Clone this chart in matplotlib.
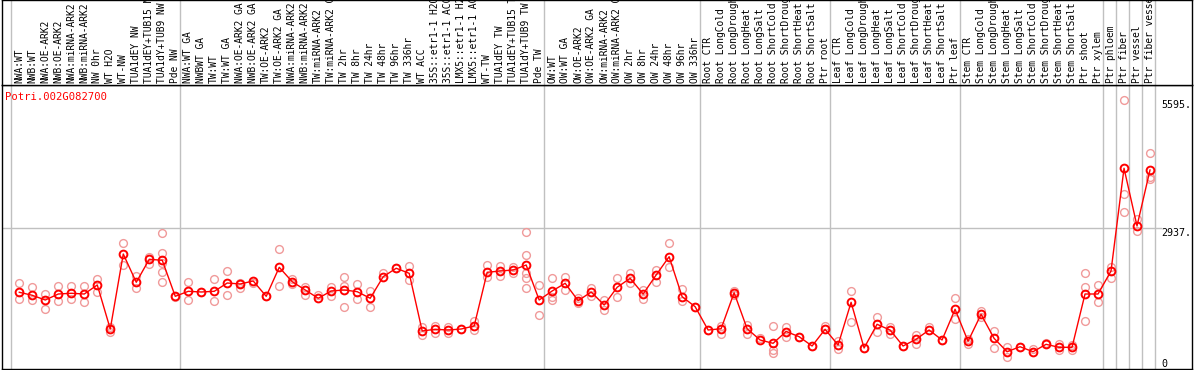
import numpy as np
import matplotlib
matplotlib.use('Agg')
import matplotlib.pyplot as plt
import matplotlib.transforms as mtrans

gene = 'Potri.002G082700'

labels = ['NWA:WT', 'NWB:WT', 'NWA:OE-ARK2', 'NWB:OE-ARK2', 'NWA:miRNA-ARK2', 'NWB:miRNA-ARK2',
          'NW 0hr', 'WT H2O', 'WT-NW', 'TUA1dEY NW', 'TUA1dEY+TUB15 NW', 'TUA1dY+TUB9 NW', 'Pde NW',
          'NWA:WT GA', 'NWBWT GA', 'TW:WT', 'TW:WT GA', 'NWA:OE-ARK2 GA', 'NWB:OE-ARK2 GA',
          'TW:OE-ARK2', 'TW:OE-ARK2 GA', 'NWA:miRNA-ARK2 GA', 'NWB:miRNA-ARK2 GA', 'TW:miRNA-ARK2',
          'TW:miRNA-ARK2 GA', 'TW 2hr', 'TW 8hr', 'TW 24hr', 'TW 48hr', 'TW 96hr', 'TW 336hr',
          'WT ACC', '35S::etr1-1 H2O', '35S::etr1-1 ACC', 'LMX5::etr1-1 H2O', 'LMX5::etr1-1 ACC',
          'WT-TW', 'TUA1dEY TW', 'TUA1dEY+TUB15 TW', 'TUA1dY+TUB9 TW', 'Pde TW',
          'OW:WT', 'OW:WT GA', 'OW:OE-ARK2', 'OW:OE-ARK2 GA', 'OW:miRNA-ARK2', 'OW:miRNA-ARK2 GA',
          'OW 2hr', 'OW 8hr', 'OW 24hr', 'OW 48hr', 'OW 96hr', 'OW 336hr',
          'Root CTR', 'Root LongCold', 'Root LongDrought', 'Root LongHeat', 'Root LongSalt',
          'Root ShortCold', 'Root ShortDrought', 'Root ShortHeat', 'Root ShortSalt', 'Ptr root',
          'Leaf CTR', 'Leaf LongCold', 'Leaf LongDrought', 'Leaf LongHeat', 'Leaf LongSalt',
          'Leaf ShortCold', 'Leaf ShortDrought', 'Leaf ShortHeat', 'Leaf ShortSalt', 'Ptr leaf',
          'Stem CTR', 'Stem LongCold', 'Stem LongDrought', 'Stem LongHeat', 'Stem LongSalt',
          'Stem ShortCold', 'Stem ShortDrought', 'Stem ShortHeat', 'Stem ShortSalt',
          'Ptr shoot', 'Ptr xylem', 'Ptr phloem', 'Ptr fiber', 'Ptr vessel', 'Ptr fiber vessel']

means = [1598, 1535, 1437, 1562, 1577, 1562, 1750, 833, 2395, 1806, 2285, 2264, 1514,
         1618, 1604, 1618, 1791, 1771, 1833, 1514, 2118, 1818, 1646, 1473, 1625, 1646, 1610,
         1473, 1923, 2098, 1993, 792, 827, 812, 833, 896, 2014, 2041, 2062, 2166, 1437,
         1625, 1785, 1423, 1604, 1333, 1702, 1889, 1562, 1958, 2339, 1506, 1298,
         812, 839, 1589, 839, 604, 535, 781, 673, 479, 827,
         500, 1389, 437, 931, 812, 479, 619, 812, 604, 1244,
         577, 1139, 639, 360, 464, 360, 514, 452, 452, 1562, 1562,
         2041, 4181, 2979, 4145]

reps = [[1785, 1452], [1714, 1437], [1562, 1244], [1729, 1416], [1735, 1464], [1729, 1396],
        [1875, 1610], [777, 881], [2618, 2166], [1943, 1693], [2339, 2181],
        [2827, 2410, 2202, 2014, 1812], [1493],
        [1806, 1437], [1604], [1868, 1410], [2041, 1541], [1798, 1693], [1798], [1514],
        [2500, 1729], [1868, 1771], [1714, 1541], [1541], [1714, 1520], [1923, 1298, 1729],
        [1764, 1452], [1631, 1298], [2006], [2098], [2145, 1854], [869, 708], [896, 756],
        [881, 744], [833], [1006, 812], [2166, 1910], [2145, 1937], [2131, 1993],
        [2847, 2375, 1993, 1889, 1681], [1750, 1119],
        [1889, 1493, 1437], [1923, 1646], [1473, 1368], [1681, 1527], [1437, 1229],
        [1889, 1506], [2006, 1785], [1646, 1452], [2062, 1818], [2618, 2131], [1660, 1423],
        [1298],
        [812], [896, 729], [1625, 1541], [923, 729], [639], [896, 396, 340], [881, 660],
        [673], [479], [896],
        [589, 410], [1625, 985], [437], [1083, 777], [881, 723], [479], [702, 521], [881],
        [604], [1485, 1035],
        [619, 521], [1214, 1077], [798, 431], [464, 256], [464], [410], [548], [521, 396],
        [500, 396], [1993, 1702, 994], [1750, 1389],
        [2131, 1902], [5595, 3645, 3264], [3118, 2875], [4506, 3993, 3952]]

# last sample of each group (separator drawn after it)
group_ends = [0, 13, 41, 53, 63, 73, 84, 85, 86, 87, 88]
yticks = [0, 2937, 5595]
ytick_text = ['0', '2937.', '5595.']

W, H = 1194, 370
fig = plt.figure(figsize=(W / 100, H / 100), dpi=100)
x0, x1 = 1.5, 1192
ax = fig.add_axes([x0 / W, 1 / H, (x1 - x0) / W, 284 / H])
axl = fig.add_axes([x0 / W, 285 / H, (x1 - x0) / W, 85 / H])

x = np.arange(1, len(means) + 1)
xlim = (1 - (19.3 - x0) / 13, 88 + (x1 - 1150) / 13)
for a in (ax, axl):
    a.set_xlim(*xlim)
    a.set_xticks([])
    a.set_yticks([])
    for s in a.spines.values():
        s.set_color('black')
        s.set_linewidth(1)
    for g in group_ends:
        a.axvline(g + 0.38, color='#c0c0c0', lw=1, zorder=0)
axl.set_ylim(0, 1)
ax.set_ylim(0, 5915)

# horizontal grid line at middle tick
ax.plot([xlim[0], 88.85], [yticks[1], yticks[1]], color='#c0c0c0', lw=1, zorder=0)

for i, r in enumerate(reps):
    ax.plot([x[i]] * len(r), r, 'o', ms=5.6, mfc='none', mec='#f09a9a', mew=1.0, zorder=2)
ax.plot(x, means, '-', color='red', lw=1, zorder=3)
ax.plot(x, means, 'o', ms=5.6, mfc='none', mec='red', mew=1.4, zorder=4)

mono = 'DejaVu Sans Mono'
tr = mtrans.blended_transform_factory(ax.transAxes, ax.transData)
for v, t in zip(yticks, ytick_text):
    ax.text(0.9745, v, t, transform=tr, ha='left', va='bottom' if v == 0 else 'top',
            fontsize=7.2, family=mono, color='black')

ax.text(0.003, 0.958, gene, transform=ax.transAxes, ha='left', va='center',
        fontsize=7.6, family=mono, color='red')

trl = mtrans.blended_transform_factory(axl.transData, axl.transAxes)
for i, lab in enumerate(labels):
    axl.text(x[i], 0.025, lab, transform=trl, rotation=90, ha='center', va='bottom',
             fontsize=6.9, family=mono, color='black', clip_on=False)

fig.savefig('out.png', dpi=100)
